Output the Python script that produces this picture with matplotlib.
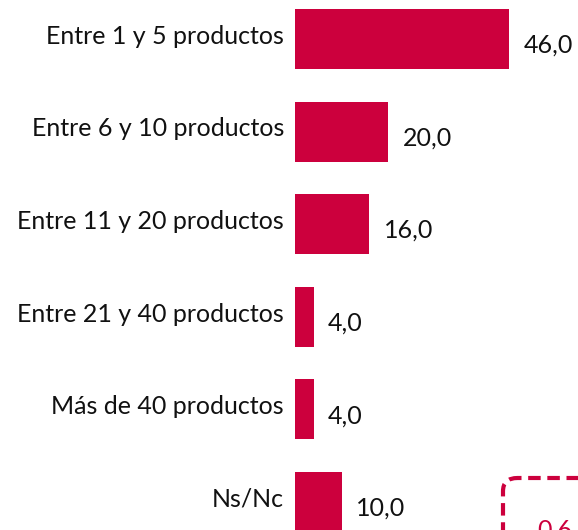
import matplotlib
matplotlib.use("Agg")
import matplotlib.pyplot as plt
from matplotlib.patches import FancyBboxPatch

categories = ["Entre 1 y 5 productos", "Entre 6 y 10 productos", "Entre 11 y 20 productos",
              "Entre 21 y 40 productos", "Más de 40 productos", "Ns/Nc"]
values = [46.0, 20.0, 16.0, 4.0, 4.0, 10.0]
value_labels = ["46,0", "20,0", "16,0", "4,0", "4,0", "10,0"]
box_text = "0,6"

color = "#CC003D"
plt.rcParams['font.family'] = ['Lato', 'DejaVu Sans']

W, H = 578, 530
fig = plt.figure(figsize=(W / 100, H / 100), dpi=100)
ax = fig.add_axes([295 / W, 0, 1 - 295 / W, 1])
step = 92.6
ax.set_ylim((H - 39) / step, -39 / step)
ax.set_xlim(0, (W - 295) / 4.65)
ax.barh(range(len(values)), values, height=0.65, color=color)
for i, (v, lab, cat) in enumerate(zip(values, value_labels, categories)):
    ax.annotate(lab, (v, i), xytext=(10.5, -4.5), textcoords="offset points",
                ha="left", va="center", fontsize=18, color="#111111")
    ax.annotate(cat, (0, i), xytext=(-8, 2), textcoords="offset points",
                ha="right", va="center", fontsize=18, color="#111111", annotation_clip=False)
ax.axis("off")

box = FancyBboxPatch((503 / W, -0.2), 0.3, (H - 478) / H + 0.2,
                     boxstyle="round,pad=0,rounding_size=0.025",
                     transform=fig.transFigure, fill=False, edgecolor=color,
                     linewidth=3, linestyle=(0, (3, 1.6)), clip_on=False)
fig.add_artist(box)
fig.text(537 / W, (H - 530) / H, box_text, color=color, fontsize=18, ha="left", va="center")

fig.savefig("out.png", dpi=100)
